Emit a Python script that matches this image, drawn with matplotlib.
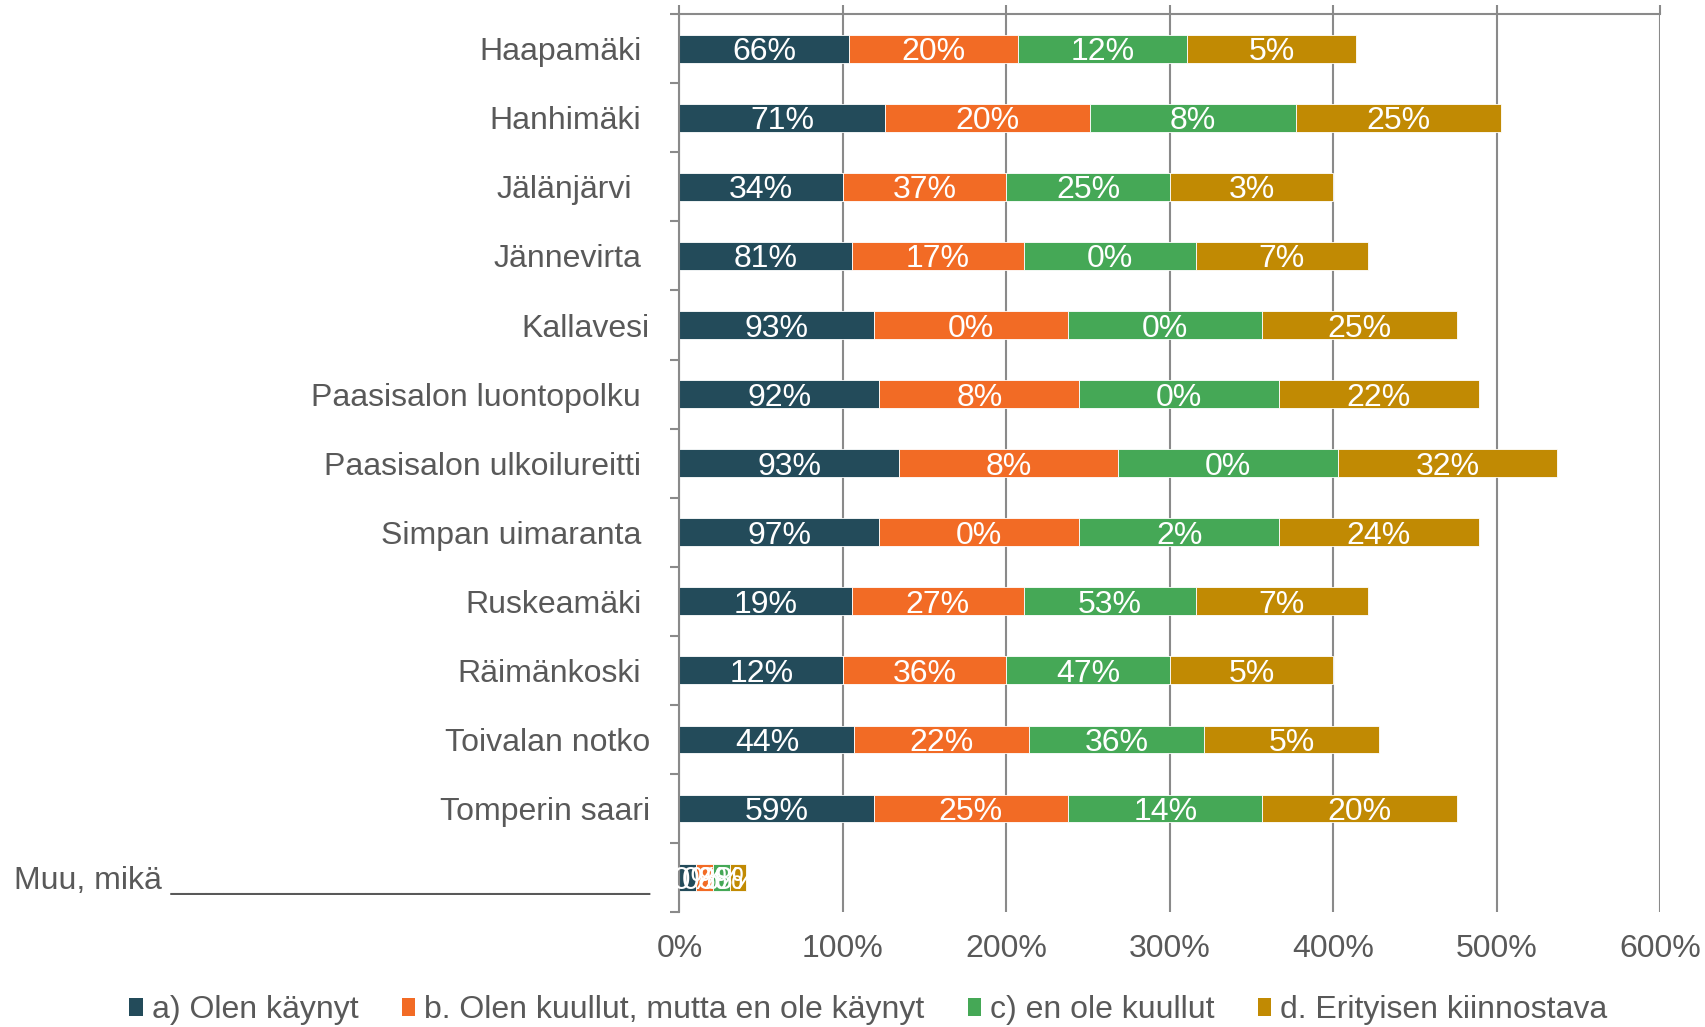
import matplotlib.pyplot as plt
from matplotlib.patches import Patch
from matplotlib.transforms import ScaledTranslation, blended_transform_factory

plt.rcParams["font.family"] = ["Liberation Sans", "DejaVu Sans"]

# labels as in the source sheet (some have trailing spaces)
places = [
    "Haapamäki ",
    "Hanhimäki ",
    "Jälänjärvi  ",
    "Jännevirta ",
    "Kallavesi",
    "Paasisalon luontopolku ",
    "Paasisalon ulkoilureitti ",
    "Simpan uimaranta ",
    "Ruskeamäki ",
    "Räimänkoski ",
    "Toivalan notko",
    "Tomperin saari",
    "Muu, mikä " + "_" * 27,
]

# bar segment length per row (all four segments of a row are equally long)
segment_width = [1.035, 1.257, 1.000, 1.053, 1.189, 1.223, 1.343,
                 1.223, 1.053, 1.000, 1.070, 1.189, 0.102]

# printed data labels
label_visited = [66, 71, 34, 81, 93, 92, 93, 97, 19, 12, 44, 59, 30]
label_heard = [20, 20, 37, 17, 0, 8, 8, 0, 27, 36, 22, 25, 0]
label_unknown = [12, 8, 25, 0, 0, 0, 0, 2, 53, 47, 36, 14, 8]
label_interest = [5, 25, 3, 7, 25, 22, 32, 24, 7, 5, 5, 20, 8]

series_names = [
    "a) Olen käynyt",
    "b. Olen kuullut, mutta en ole käynyt",
    "c) en ole kuullut",
    "d. Erityisen kiinnostava",
]
series_colors = ["#234B5A", "#F26B25", "#45A856", "#C18A03"]

x_ticks = [0, 1, 2, 3, 4, 5, 6]

GRAY = "#8A8A8A"
TEXT = "#595959"
FS = 23

fig = plt.figure(figsize=(17.06, 10.27), dpi=100)
ax = fig.add_axes([0.3983, 0.1120, 0.5747, 0.8741])

rows = list(range(len(places)))
series_labels = [label_visited, label_heard, label_unknown, label_interest]
lefts = [0.0] * len(places)
for labels, color in zip(series_labels, series_colors):
    bars = ax.barh(rows, segment_width, left=lefts, height=0.4, color=color,
                   edgecolor="white", linewidth=0.6, zorder=2)
    for bar, val in zip(bars, labels):
        ax.text(bar.get_x() + bar.get_width() / 2, bar.get_y() + bar.get_height() / 2,
                f"{val}%", ha="center", va="center_baseline", color="white",
                fontsize=FS, zorder=4)
    lefts = [l + w for l, w in zip(lefts, segment_width)]

ax.set_xlim(0, 6)
ax.set_ylim(len(places) - 0.5, -0.5)

ax.set_xticks(x_ticks)
ax.set_xticklabels([f"{t * 100}%" for t in x_ticks])
ax.grid(axis="x", color=GRAY, linewidth=1.5, zorder=0)
ax.set_axisbelow(True)
ax.tick_params(axis="x", bottom=False, top=True, direction="out", length=6.8,
               width=1.5, color=GRAY, labelbottom=True, labeltop=False,
               labelsize=FS, labelcolor=TEXT, pad=9.3)

ax.set_yticks(rows)
ax.set_yticklabels([])
ax.set_yticks([r - 0.5 for r in rows] + [len(places) - 0.5], minor=True)
ax.tick_params(axis="y", which="major", length=0)
ax.tick_params(axis="y", which="minor", direction="out", length=6.8, width=1.5,
               color=GRAY)

for side in ["right", "bottom"]:
    ax.spines[side].set_visible(False)
for side in ["top", "left"]:
    ax.spines[side].set_color(GRAY)
    ax.spines[side].set_linewidth(1.5)

# category names, shifted by their trailing spaces like in Excel
ytrans = blended_transform_factory(ax.transAxes, ax.transData)
space_px = 0.2778 * FS / 0.72
for r, name in zip(rows, places):
    n_sp = len(name) - len(name.rstrip())
    shift = (29.5 + n_sp * space_px) / 100
    ax.text(0, r, name.rstrip(), ha="right", va="center_baseline", color=TEXT,
            fontsize=FS,
            transform=ytrans + ScaledTranslation(-shift, 0, fig.dpi_scale_trans))

handles = [Patch(facecolor=c) for c in series_colors]
fig.legend(handles, series_names, loc="center", bbox_to_anchor=(0.509, 0.0166),
           ncol=4, frameon=False, fontsize=FS, handlelength=0.42, handleheight=0.5,
           handletextpad=0.28, columnspacing=1.36, labelcolor=TEXT,
           borderaxespad=0, borderpad=0)

fig.savefig("out.png", dpi=100)
